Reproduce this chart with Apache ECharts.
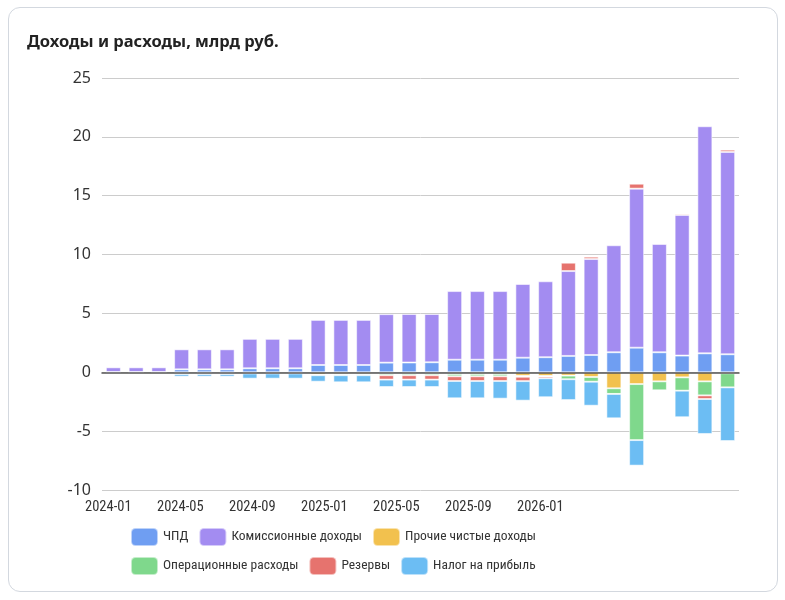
<!DOCTYPE html>
<html>
<head>
<meta charset="utf-8">
<script src="https://cdn.jsdelivr.net/npm/echarts@6/dist/echarts.min.js"></script>
<style>
  html, body { margin: 0; padding: 0; background: #fff; }
  #card {
    position: absolute; left: 8px; top: 7px; width: 768px; height: 583px;
    border: 1px solid #d3d8df; border-radius: 12px; box-sizing: content-box;
  }
  #chart { position: absolute; left: 0; top: 0; width: 785px; height: 600px; }
</style>
</head>
<body>
<div id="card"></div>
<div id="chart"></div>
<script>
// месяцы (столбцы)
const months = [
  '2024-01', '2024-02', '2024-03', '2024-04', '2024-05', '2024-06', '2024-07',
  '2024-08', '2024-09', '2024-10', '2024-11', '2024-12', '2025-01', '2025-02',
  '2025-03', '2025-04', '2025-05', '2025-06', '2025-07', '2025-08', '2025-09',
  '2025-10', '2025-11', '2025-12', '2026-01', '2026-02', '2026-03', '2026-04'
]

// подписи оси X и их положение (в месяцах от 2024-01)
const tickLabels = ['2024-01', '2024-05', '2024-09', '2025-01', '2025-05', '2025-09', '2026-01']
const tickMonths = [0, 4, 8, 12, 16, 20, 24]

// значения, млрд руб.
const nii = [0.02, 0.02, 0.02, 0.25, 0.25, 0.25, 0.34, 0.34, 0.34, 0.62, 0.62, 0.62,
  0.82, 0.83, 0.85, 1.07, 1.07, 1.07, 1.24, 1.28, 1.39, 1.47, 1.7, 2.09, 1.7, 1.42, 1.61, 1.53]
const commission = [0.4, 0.4, 0.4, 1.7, 1.7, 1.7, 2.5, 2.5, 2.5, 3.83, 3.83, 3.83,
  4.12, 4.12, 4.1, 5.83, 5.83, 5.83, 6.26, 6.45, 7.21, 8.15, 9.09, 13.51, 9.2, 11.95, 19.29, 17.19]
const otherIncome = [-0.01, -0.01, -0.01, -0.05, -0.05, -0.05, -0.08, -0.08, -0.08, -0.2, -0.15, -0.15,
  -0.11, -0.11, -0.11, -0.14, -0.14, -0.14, -0.3, -0.31, -0.28, -0.4, -1.36, -1.0, -0.77, -0.43, -0.77, -0.08]
const opex = [0, 0, 0, 0, 0, 0, 0, 0, 0, -0.05, -0.1, -0.1,
  -0.14, -0.14, -0.14, -0.2, -0.2, -0.2, -0.08, -0.05, -0.31, -0.4, -0.48, -4.76, -0.77, -1.13, -1.19, -1.2]
const reserves = [-0.05, -0.05, -0.05, -0.1, -0.1, -0.1, -0.02, -0.02, -0.02, 0, 0, 0,
  -0.37, -0.37, -0.37, -0.4, -0.4, -0.4, -0.37, -0.15, 0.71, 0.2, 0, 0.42, 0, 0.11, -0.31, 0.19]
const tax = [0, 0, 0, -0.22, -0.22, -0.22, -0.44, -0.44, -0.44, -0.55, -0.6, -0.6,
  -0.63, -0.63, -0.63, -1.47, -1.47, -1.5, -1.66, -1.61, -1.77, -2.04, -2.07, -2.17, 0, -2.26, -2.97, -4.56]

const seriesDefs = [
  { name: 'ЧПД', data: nii, color: '#6f9ef2' },
  { name: 'Комиссионные доходы', data: commission, color: '#a38cf1' },
  { name: 'Прочие чистые доходы', data: otherIncome, color: '#f2c14e' },
  { name: 'Операционные расходы', data: opex, color: '#7fd88c' },
  { name: 'Резервы', data: reserves, color: '#e6736e' },
  { name: 'Налог на прибыль', data: tax, color: '#6cbdf3' }
]

const font = 'Noto Sans'
const narrow = 'Roboto Condensed'
const chart = echarts.init(document.getElementById('chart'))

const legendBase = {
  icon: 'roundRect',
  itemWidth: 27,
  itemHeight: 18,
  itemGap: 10,
  left: 125,
  textStyle: { fontFamily: narrow, fontSize: 13.5, color: '#333' }
}

chart.setOption({
  animation: false,
  title: {
    text: 'Доходы и расходы, млрд руб.',
    left: 22,
    top: 29,
    textStyle: { fontFamily: font, fontSize: 16.5, fontWeight: 'bold', color: '#222' }
  },
  legend: [
    Object.assign({ top: 522, data: seriesDefs.slice(0, 3).map(s => s.name) }, legendBase),
    Object.assign({ top: 551, data: seriesDefs.slice(3).map(s => s.name) }, legendBase)
  ],
  tooltip: { trigger: 'axis' },
  grid: { left: 102, right: 46, top: 78, bottom: 110 },
  xAxis: [
    {
      type: 'category',
      data: months,
      axisLine: { onZero: true, lineStyle: { color: '#555', width: 1.5 } },
      axisTick: { show: false },
      axisLabel: { show: false },
      z: 10
    },
    {
      type: 'value',
      min: -0.35,
      max: 35.04,
      position: 'bottom',
      axisLine: { show: false, onZero: false },
      axisTick: { show: false },
      splitLine: { show: false },
      axisLabel: {
        customValues: tickMonths,
        margin: 10,
        fontFamily: narrow,
        fontSize: 14.5,
        color: '#333',
        formatter: v => tickLabels[tickMonths.indexOf(v)] || ''
      }
    }
  ],
  yAxis: {
    type: 'value',
    min: -10,
    max: 25,
    interval: 5,
    axisLine: { show: false },
    axisTick: { show: false },
    axisLabel: { fontFamily: font, fontSize: 16, color: '#333', margin: 11 },
    splitLine: { lineStyle: { color: '#ccc', width: 1 } }
  },
  series: seriesDefs.map(s => ({
    name: s.name,
    type: 'bar',
    stack: 'total',
    barWidth: 15,
    data: s.data,
    itemStyle: { color: s.color, borderColor: 'rgba(255,255,255,0.55)', borderWidth: 1 }
  }))
})
</script>
</body>
</html>
